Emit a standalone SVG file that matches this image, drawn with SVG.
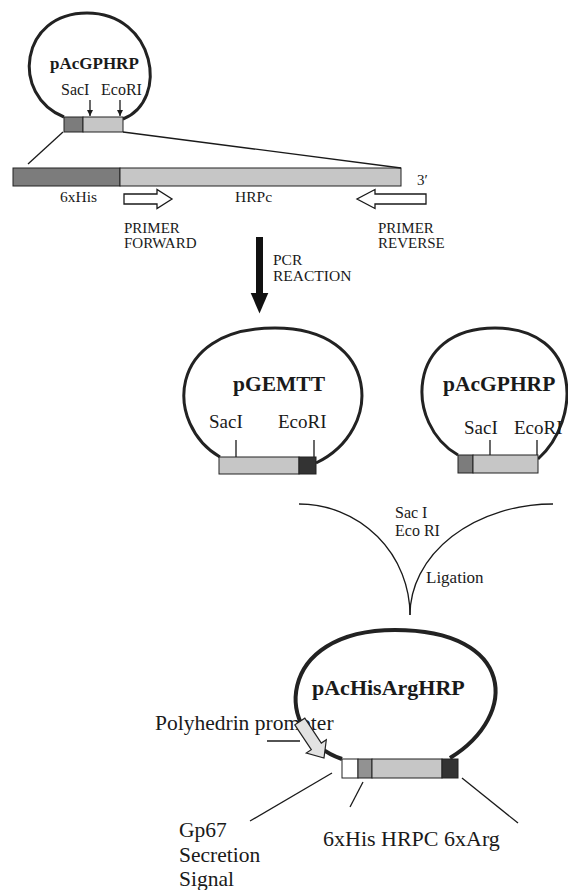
<svg xmlns="http://www.w3.org/2000/svg" width="568" height="890" viewBox="0 0 568 890">
<defs>
<style>
text{font-family:"Liberation Serif","Times New Roman",serif;fill:#1a1a1a}
.b{font-weight:bold}
.loop{fill:none;stroke:#222;stroke-width:3}
.ln{fill:none;stroke:#1a1a1a;stroke-width:1.3}
.bx{stroke:#222;stroke-width:1}
.dk{fill:#7c7c7c}
.lt{fill:#c6c6c6}
.bk{fill:#333}
.md{fill:#929292}
</style>
<marker id="ah" viewBox="0 0 8 8" refX="8" refY="4" markerWidth="6" markerHeight="6" orient="auto" markerUnits="userSpaceOnUse">
<path d="M0,0 L8,4 L0,8 z" fill="#1a1a1a"/>
</marker>
</defs>
<rect width="568" height="890" fill="#fff"/>

<g id="plasmid-top">
<path class="loop" d="M64,117 C10,95 20,13 87,13 C155,13 170,100 123,119"/>
<text class="b" x="50" y="69" font-size="17">pAcGPHRP</text>
<text x="61" y="95" font-size="16">SacI</text>
<text x="101" y="95" font-size="16">EcoRI</text>
<rect class="bx dk" x="64" y="117" width="19" height="15"/>
<rect class="bx lt" x="83" y="117" width="40" height="15"/>
</g>

<g id="insert-bar">
<rect class="bx dk" x="13" y="168" width="107" height="18"/>
<rect class="bx lt" x="120" y="168" width="281" height="18"/>
<text x="60" y="202" font-size="15.5">6xHis</text>
<text x="235" y="202" font-size="15.5">HRPc</text>
<text x="417" y="185" font-size="15">3′</text>
</g>

<g id="primer-forward">
<path class="ln" d="M124,194 H157 V189.5 L172,199 L157,208.5 V204 H124 Z" style="fill:#fff"/>
<text x="124" y="233" font-size="15">PRIMER</text>
<text x="124" y="248" font-size="15">FORWARD</text>
</g>

<g id="primer-reverse">
<path class="ln" d="M426,194 H375 V189.5 L357,199 L375,208.5 V204 H426 Z" style="fill:#fff"/>
<text x="378" y="233" font-size="15">PRIMER</text>
<text x="378" y="248" font-size="15">REVERSE</text>
</g>

<g id="pcr-label">
<text x="273" y="265" font-size="15.5">PCR</text>
<text x="273" y="281" font-size="15.5">REACTION</text>
</g>

<g id="pGEMTT">
<path class="loop" d="M220,457 C165,425 165,328 275,328 C380,328 385,430 316,463"/>
<text class="b" x="233" y="391" font-size="21.5">pGEMTT</text>
<text x="209" y="428" font-size="19">SacI</text>
<text x="278" y="428" font-size="19">EcoRI</text>
<line class="ln" x1="236" y1="440" x2="236" y2="457"/>
<line class="ln" x1="314" y1="440" x2="314" y2="457"/>
<rect class="bx lt" x="219" y="457" width="80" height="17"/>
<rect class="bx bk" x="299" y="457" width="17" height="17"/>
</g>

<g id="pAcGPHRP-2">
<path class="loop" d="M458,455 C405,425 405,328 495,328 C582,328 582,420 538,459"/>
<text class="b" x="443" y="391" font-size="21.5">pAcGPHRP</text>
<text x="464" y="434" font-size="19">SacI</text>
<text x="514" y="434" font-size="19">EcoRI</text>
<line class="ln" x1="490" y1="440" x2="490" y2="465"/>
<line class="ln" x1="537" y1="440" x2="537" y2="455"/>
<rect class="bx dk" x="458" y="455" width="15" height="18"/>
<rect class="bx lt" x="473" y="455" width="65" height="18"/>
</g>

<g id="ligation">
<text x="395" y="518" font-size="16">Sac I</text>
<text x="395" y="536" font-size="16">Eco RI</text>
<text x="426" y="583" font-size="17">Ligation</text>
</g>

<g id="pAcHisArgHRP">
<path class="loop" style="stroke-width:4" d="M342,759 C272,735 275,630 395,630 C515,630 520,715 450,758"/>
<text class="b" x="312" y="695" font-size="22">pAcHisArgHRP</text>
<rect class="bx" x="342" y="759" width="16" height="19" fill="#fff"/>
<rect class="bx md" x="358" y="759" width="14" height="19"/>
<rect class="bx lt" x="372" y="759" width="70" height="19"/>
<rect class="bx bk" x="442" y="759" width="16" height="19"/>
</g>

<g id="polyhedrin-promoter">
<text x="155" y="730" font-size="21.5">Polyhedrin promoter</text>
<polygon points="304.8,718.2 321.3,743.1 326.3,739.8 324,758 306.3,753 311.3,749.7 294.8,724.8" fill="#e2e2e2" stroke="#222" stroke-width="1.2"/>
</g>

<g id="gp67-label">
<text x="179" y="837" font-size="21.5">Gp67</text>
<text x="179" y="862" font-size="21.5">Secretion</text>
<text x="179" y="886" font-size="21.5">Signal</text>
</g>

<g id="tags-label">
<text x="323" y="846" font-size="22">6xHis HRPC 6xArg</text>
</g>

<g id="connectors">
<line class="ln" x1="90" y1="100" x2="90" y2="116" marker-end="url(#ah)"/>
<line class="ln" x1="120" y1="100" x2="120" y2="116" marker-end="url(#ah)"/>
<line class="ln" x1="63" y1="132" x2="28" y2="164"/>
<line class="ln" x1="123" y1="132" x2="401" y2="168"/>
<rect x="256" y="237" width="7" height="57" fill="#111"/>
<polygon points="250.7,293 268.3,293 259.5,313.5" fill="#111"/>
<path class="ln" d="M299,504 A111,111 0 0 1 410,615"/>
<path class="ln" d="M553,504 A143,111 0 0 0 410,615"/>
<line class="ln" x1="267" y1="741" x2="300" y2="741"/>
<line class="ln" x1="332" y1="773" x2="250" y2="821"/>
<line class="ln" x1="363" y1="782" x2="350" y2="807"/>
<line class="ln" x1="462" y1="778" x2="518" y2="823"/>
</g>
</svg>
